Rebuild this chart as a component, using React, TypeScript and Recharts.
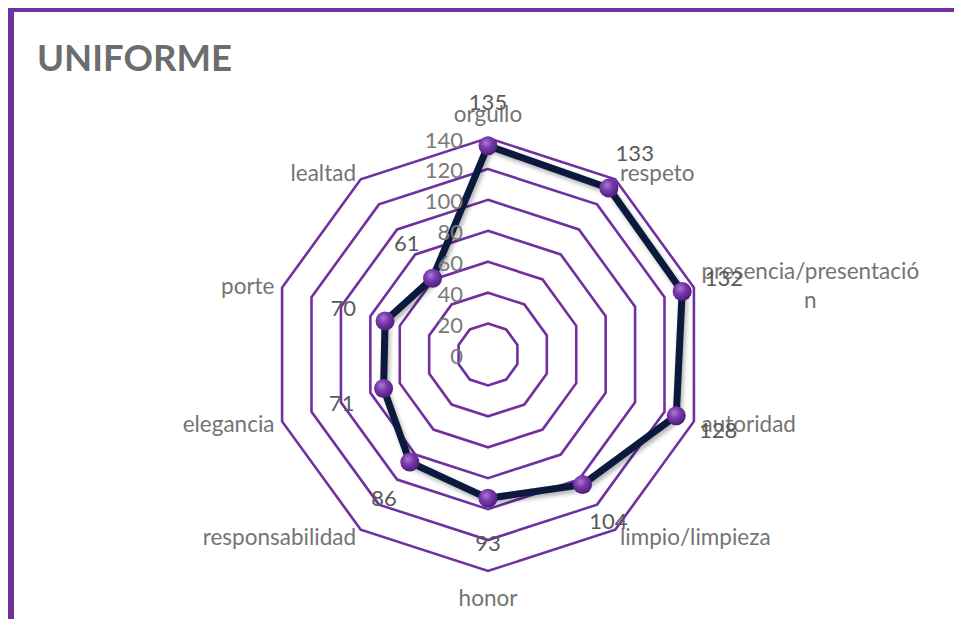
import React from 'react';
import { RadarChart, Radar, PolarGrid, PolarAngleAxis, PolarRadiusAxis } from 'recharts';

const categories = [
  'orgullo',
  'respeto',
  'presencia/presentación',
  'autoridad',
  'limpio/limpieza',
  'honor',
  'responsabilidad',
  'elegancia',
  'porte',
  'lealtad',
];
const values = [135, 133, 132, 128, 104, 93, 86, 71, 70, 61];
const radiusTicks = [0, 20, 40, 60, 80, 100, 120, 140];
const title = 'UNIFORME';

const data = categories.map((name, i) => ({ name, value: values[i] }));

const PURPLE = '#7030A0';
const NAVY = '#0B1A3C';
const FONT = 'Lato, "Open Sans", sans-serif';
const CX = 474;
const CY = 342.5;
const R = 216.5;
const CAT_SIZE = 22.5;
const NUM_SIZE = 22;

let ctx: CanvasRenderingContext2D | null = null;
function measure(text: string, size: number): number {
  if (!ctx) {
    const c = document.createElement('canvas');
    ctx = c.getContext('2d');
  }
  if (!ctx) return text.length * size * 0.5;
  ctx.font = `${size}px Lato`;
  return ctx.measureText(text).width;
}

function AngleTick(props: any) {
  const { x, y, payload, textAnchor } = props;
  const label: string = String(payload.value);
  const lines = label.length > 21 ? [label.slice(0, 21), label.slice(21)] : [label];
  let ty = y;
  if (textAnchor === 'middle') ty = y + (y < CY ? -17 : 18);
  const lh = 29;
  if (lines.length > 1) {
    const w = measure(lines[0], CAT_SIZE);
    const mx = textAnchor === 'start' ? x + w / 2 : textAnchor === 'end' ? x - w / 2 : x;
    return (
      <g>
        {lines.map((ln, i) => (
          <text
            key={i}
            x={mx}
            y={ty + (i - (lines.length - 1) / 2) * lh}
            textAnchor="middle"
            dominantBaseline="central"
            fill="#747474"
            fontSize={CAT_SIZE}
            fontFamily={FONT}
          >
            {ln}
          </text>
        ))}
      </g>
    );
  }
  return (
    <text
      x={x}
      y={ty}
      textAnchor={textAnchor}
      dominantBaseline="central"
      fill="#747474"
      fontSize={CAT_SIZE}
      fontFamily={FONT}
    >
      {label}
    </text>
  );
}

function RadiusTick(props: any) {
  const { x, y, payload } = props;
  return (
    <text
      x={x - 25}
      y={y + 1}
      textAnchor="end"
      dominantBaseline="central"
      fill="#7a7a7a"
      fontSize={NUM_SIZE}
      fontFamily={FONT}
    >
      {payload.value}
    </text>
  );
}

function BallDot(props: any) {
  const { cx, cy, index } = props;
  if (cx == null || cy == null) return null;
  const dx = cx - CX;
  const dy = cy - CY;
  const len = Math.sqrt(dx * dx + dy * dy) || 1;
  const lx = cx + (dx / len) * 44;
  const ly = cy + (dy / len) * 44;
  return (
    <g key={`dot-${index}`}>
      <circle cx={cx} cy={cy} r={9.5} fill="url(#ballGrad)" />
      <text
        x={lx}
        y={ly}
        textAnchor="middle"
        dominantBaseline="central"
        fill="#595959"
        fontSize={NUM_SIZE}
        fontFamily={FONT}
      >
        {values[index]}
      </text>
    </g>
  );
}

export default function App() {
  return (
    <div
      style={{
        position: 'fixed',
        left: 8,
        top: 8,
        width: 946,
        height: 611,
        boxSizing: 'border-box',
        borderTop: `4px solid ${PURPLE}`,
        borderLeft: `6px solid ${PURPLE}`,
        overflow: 'hidden',
        background: '#fff',
      }}
    >
      <style>{`.recharts-radar-polygon .recharts-polygon { filter: drop-shadow(2px 3px 2px rgba(0,0,0,0.3)); }`}</style>
      <svg width={300} height={100} style={{ position: 'absolute', left: 0, top: 0 }}>
        <text x={23} y={59} fontFamily={FONT} fontWeight={700} fontSize={36.5} fill="#6d6d6d">
          {title}
        </text>
      </svg>
      <RadarChart
        width={940}
        height={607}
        cx={CX}
        cy={CY}
        outerRadius={R}
        data={data}
        margin={{ top: 0, right: 0, bottom: 0, left: 0 }}
        style={{ position: 'absolute', left: 0, top: 0 }}
      >
        <defs>
          <radialGradient id="ballGrad" cx="40%" cy="35%" r="65%">
            <stop offset="0%" stopColor="#A77BD0" />
            <stop offset="45%" stopColor="#7A3AAE" />
            <stop offset="100%" stopColor="#4E1D7A" />
          </radialGradient>
        </defs>
        <PolarGrid gridType="polygon" radialLines={false} stroke={PURPLE} strokeWidth={2.6} />
        <PolarAngleAxis dataKey="name" tick={AngleTick} tickLine={false} axisLine={false} />
        <PolarRadiusAxis
          angle={90}
          domain={[0, 140]}
          ticks={radiusTicks}
          tick={RadiusTick}
          axisLine={false}
          tickLine={false}
        />
        <Radar
          dataKey="value"
          stroke={NAVY}
          strokeWidth={7}
          fill="none"
          fillOpacity={0}
          dot={BallDot}
          isAnimationActive={false}
        />
      </RadarChart>
    </div>
  );
}
